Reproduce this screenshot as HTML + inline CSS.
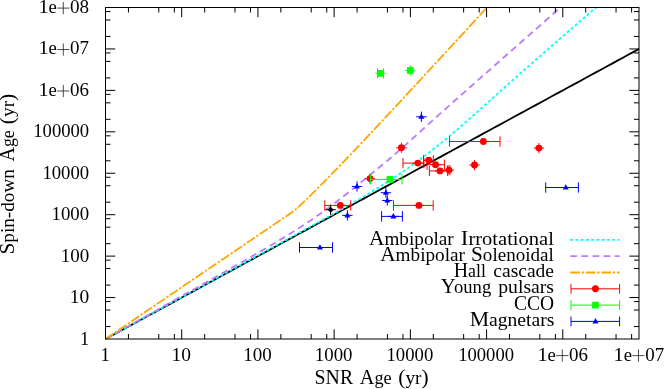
<!DOCTYPE html>
<html><head><meta charset="utf-8"><title>plot</title>
<style>html,body{margin:0;padding:0;background:#fff;overflow:hidden}svg{display:block;will-change:transform}text{font-family:"Liberation Serif",serif;fill:#000}</style>
</head><body>
<svg width="664" height="389" viewBox="0 0 664 389">
<rect x="0" y="0" width="664" height="389" fill="#ffffff"/>
<defs><clipPath id="pc"><rect x="105.00" y="7.00" width="534.50" height="332.50"/></clipPath></defs>
<g clip-path="url(#pc)" fill="none" stroke-width="1.80" stroke-linejoin="round">
<path d="M105.50,339.00 L110.89,336.07 L116.28,333.14 L121.67,330.21 L127.06,327.28 L132.44,324.35 L137.83,321.42 L143.22,318.49 L148.61,315.56 L154.00,312.63 L159.39,309.70 L164.78,306.77 L170.17,303.84 L175.56,300.91 L180.94,297.98 L186.33,295.05 L191.72,292.12 L197.11,289.19 L202.50,286.26 L207.89,283.33 L213.28,280.40 L218.67,277.47 L224.06,274.54 L229.44,271.61 L234.83,268.68 L240.22,265.75 L245.61,262.82 L251.00,259.89 L256.39,256.96 L261.78,254.03 L267.17,251.10 L272.56,248.17 L277.94,245.24 L283.33,242.31 L288.72,239.38 L294.11,236.45 L299.50,233.52 L304.89,230.59 L310.28,227.66 L315.67,224.73 L321.06,221.80 L326.44,218.87 L331.83,215.94 L337.22,213.01 L342.61,210.08 L348.00,207.15 L353.39,204.22 L358.78,201.29 L364.17,198.36 L369.56,195.43 L374.94,192.50 L380.33,189.57 L385.72,186.64 L391.11,183.71 L396.50,180.78 L401.89,177.85 L407.28,174.92 L412.67,171.99 L418.06,169.06 L423.44,166.13 L428.83,163.20 L434.22,160.27 L439.61,157.34 L445.00,154.41 L450.39,151.48 L455.78,148.55 L461.17,145.62 L466.56,142.70 L471.94,139.77 L477.33,136.84 L482.72,133.91 L488.11,130.98 L493.50,128.05 L498.89,125.12 L504.28,122.19 L509.67,119.26 L515.06,116.33 L520.44,113.40 L525.83,110.47 L531.22,107.54 L536.61,104.61 L542.00,101.68 L547.39,98.75 L552.78,95.82 L558.17,92.89 L563.56,89.96 L568.94,87.03 L574.33,84.10 L579.72,81.17 L585.11,78.24 L590.50,75.31 L595.89,72.38 L601.28,69.45 L606.67,66.52 L612.06,63.59 L617.44,60.66 L622.83,57.73 L628.22,54.80 L633.61,51.87 L639.00,48.94" stroke="#000"/>
<path d="M105.50,339.00 L110.89,336.05 L116.28,333.09 L121.67,330.14 L127.06,327.19 L132.44,324.23 L137.83,321.28 L143.22,318.33 L148.61,315.37 L154.00,312.42 L159.39,309.47 L164.78,306.51 L170.17,303.56 L175.56,300.61 L180.94,297.65 L186.33,294.70 L191.72,291.75 L197.11,288.79 L202.50,285.84 L207.89,282.89 L213.28,279.93 L218.67,276.98 L224.06,274.02 L229.44,271.07 L234.83,268.12 L240.22,265.16 L245.61,262.21 L251.00,259.25 L256.39,256.30 L261.78,253.34 L267.17,250.39 L272.56,247.43 L277.94,244.48 L283.33,241.52 L288.72,238.56 L294.11,235.59 L299.50,232.63 L304.89,229.66 L310.28,226.69 L315.67,223.71 L321.06,220.73 L326.44,217.74 L331.83,214.73 L337.22,211.71 L342.61,208.68 L348.00,205.62 L353.39,202.54 L358.78,199.42 L364.17,196.26 L369.56,193.06 L374.94,189.80 L380.33,186.48 L385.72,183.09 L391.11,179.62 L396.50,176.06 L401.89,172.41 L407.28,168.67 L412.67,164.84 L418.06,160.91 L423.44,156.89 L428.83,152.77 L434.22,148.56 L439.61,144.26 L445.00,139.86 L450.39,135.38 L455.78,130.82 L461.17,126.18 L466.56,121.47 L471.94,116.71 L477.33,111.91 L482.72,107.08 L488.11,102.24 L493.50,97.40 L498.89,92.56 L504.28,87.74 L509.67,82.93 L515.06,78.14 L520.44,73.38 L525.83,68.63 L531.22,63.89 L536.61,59.17 L542.00,54.46 L547.39,49.75 L552.78,45.05 L558.17,40.36 L563.56,35.67 L568.94,30.98 L574.33,26.29 L579.72,21.60 L585.11,16.91 L590.50,12.22 L595.89,7.53 L601.28,2.85 L606.67,-1.84 L612.06,-6.53 L617.44,-11.22 L622.83,-15.91 L628.22,-20.59" stroke="#00ffff" stroke-dasharray="2.9 2.35"/>
<path d="M105.50,339.00 L110.89,335.97 L116.28,332.93 L121.67,329.90 L127.06,326.87 L132.44,323.84 L137.83,320.80 L143.22,317.77 L148.61,314.74 L154.00,311.70 L159.39,308.67 L164.78,305.64 L170.17,302.60 L175.56,299.57 L180.94,296.53 L186.33,293.50 L191.72,290.46 L197.11,287.42 L202.50,284.39 L207.89,281.35 L213.28,278.30 L218.67,275.26 L224.06,272.21 L229.44,269.15 L234.83,266.09 L240.22,263.03 L245.61,259.95 L251.00,256.86 L256.39,253.76 L261.78,250.64 L267.17,247.49 L272.56,244.32 L277.94,241.11 L283.33,237.86 L288.72,234.56 L294.11,231.20 L299.50,227.77 L304.89,224.26 L310.28,220.66 L315.67,216.97 L321.06,213.18 L326.44,209.28 L331.83,205.28 L337.22,201.19 L342.61,197.01 L348.00,192.76 L353.39,188.45 L358.78,184.10 L364.17,179.72 L369.56,175.33 L374.94,170.91 L380.33,166.48 L385.72,162.00 L391.11,157.46 L396.50,152.85 L401.89,148.15 L407.28,143.38 L412.67,138.53 L418.06,133.65 L423.44,128.75 L428.83,123.85 L434.22,118.98 L439.61,114.13 L445.00,109.32 L450.39,104.53 L455.78,99.75 L461.17,94.99 L466.56,90.24 L471.94,85.49 L477.33,80.74 L482.72,76.00 L488.11,71.25 L493.50,66.51 L498.89,61.76 L504.28,57.02 L509.67,52.27 L515.06,47.52 L520.44,42.78 L525.83,38.03 L531.22,33.28 L536.61,28.54 L542.00,23.79 L547.39,19.04 L552.78,14.30 L558.17,9.55 L563.56,4.81 L568.94,0.06 L574.33,-4.69 L579.72,-9.43 L585.11,-14.18 L590.50,-18.93" stroke="#bc7cff" stroke-dasharray="6.75 4.35"/>
<path d="M105.50,339.00 L110.89,335.34 L116.28,331.68 L121.67,328.01 L127.06,324.35 L132.44,320.69 L137.83,317.03 L143.22,313.36 L148.61,309.70 L154.00,306.04 L159.39,302.38 L164.78,298.71 L170.17,295.05 L175.56,291.39 L180.94,287.73 L186.33,284.06 L191.72,280.40 L197.11,276.74 L202.50,273.08 L207.89,269.41 L213.28,265.75 L218.67,262.09 L224.06,258.43 L229.44,254.76 L234.83,251.10 L240.22,247.44 L245.61,243.78 L251.00,240.12 L256.39,236.45 L261.78,232.79 L267.17,229.13 L272.56,225.47 L277.94,221.80 L283.33,218.14 L288.72,214.48 L294.11,210.82 L299.50,205.97 L304.89,200.83 L310.28,195.60 L315.67,190.30 L321.06,184.92 L326.44,179.48 L331.83,173.99 L337.22,168.45 L342.61,162.86 L348.00,157.24 L353.39,151.59 L358.78,145.90 L364.17,140.19 L369.56,134.46 L374.94,128.71 L380.33,122.94 L385.72,117.16 L391.11,111.37 L396.50,105.57 L401.89,99.76 L407.28,93.94 L412.67,88.12 L418.06,82.29 L423.44,76.46 L428.83,70.62 L434.22,64.78 L439.61,58.93 L445.00,53.09 L450.39,47.24 L455.78,41.39 L461.17,35.54 L466.56,29.69 L471.94,23.83 L477.33,17.98 L482.72,12.12 L488.11,6.27 L493.50,0.41 L498.89,-5.45 L504.28,-11.30 L509.67,-17.16 L515.06,-23.02" stroke="#ffa500" stroke-dasharray="9.55 1.9 2.3 1.8"/>
</g>
<g clip-path="url(#pc)">
<path d="M324.80,205.40 H350.70 M324.80,200.25 V210.55 M350.70,200.25 V210.55 M335.15,205.40 H345.45" stroke="#ff0000" stroke-width="1" fill="none"/>
<circle cx="340.30" cy="205.40" r="3.45" fill="#ff0000"/>
<path d="M396.25,147.70 H406.55 M401.40,142.55 V152.85" stroke="#ff0000" stroke-width="1" fill="none"/>
<circle cx="401.40" cy="147.70" r="3.45" fill="#ff0000"/>
<path d="M403.00,163.10 H423.90 M403.00,157.95 V168.25 M423.90,157.95 V168.25 M412.75,163.10 H423.05" stroke="#ff0000" stroke-width="1" fill="none"/>
<circle cx="417.90" cy="163.10" r="3.45" fill="#ff0000"/>
<path d="M423.50,160.30 H433.30 M423.50,155.15 V165.45 M433.30,155.15 V165.45 M423.55,160.30 H433.85" stroke="#ff0000" stroke-width="1" fill="none"/>
<circle cx="428.70" cy="160.30" r="3.45" fill="#ff0000"/>
<path d="M427.10,164.70 H444.40 M427.10,159.55 V169.85 M444.40,159.55 V169.85 M430.35,164.70 H440.65" stroke="#ff0000" stroke-width="1" fill="none"/>
<circle cx="435.50" cy="164.70" r="3.45" fill="#ff0000"/>
<path d="M429.40,170.90 H447.70 M429.40,165.75 V176.05 M447.70,165.75 V176.05 M434.85,170.90 H445.15" stroke="#ff0000" stroke-width="1" fill="none"/>
<circle cx="440.00" cy="170.90" r="3.45" fill="#ff0000"/>
<path d="M447.90,170.10 H449.90 M447.90,164.95 V175.25 M449.90,164.95 V175.25 M443.85,170.10 H454.15" stroke="#ff0000" stroke-width="1" fill="none"/>
<circle cx="449.00" cy="170.10" r="3.45" fill="#ff0000"/>
<path d="M449.60,141.50 H500.00 M449.60,136.35 V146.65 M500.00,136.35 V146.65 M478.25,141.50 H488.55" stroke="#ff0000" stroke-width="1" fill="none"/>
<circle cx="483.40" cy="141.50" r="3.45" fill="#ff0000"/>
<path d="M393.50,205.40 H433.20 M393.50,200.25 V210.55 M433.20,200.25 V210.55 M413.75,205.40 H424.05" stroke="#ff0000" stroke-width="1" fill="none"/>
<circle cx="418.90" cy="205.40" r="3.45" fill="#ff0000"/>
<path d="M364.85,178.60 H375.15 M370.00,173.45 V183.75" stroke="#ff0000" stroke-width="1" fill="none"/>
<circle cx="370.00" cy="178.60" r="3.45" fill="#ff0000"/>
<path d="M533.75,148.10 H544.05 M538.90,142.95 V153.25" stroke="#ff0000" stroke-width="1" fill="none"/>
<circle cx="538.90" cy="148.10" r="3.45" fill="#ff0000"/>
<path d="M469.35,165.00 H479.65 M474.50,159.85 V170.15" stroke="#ff0000" stroke-width="1" fill="none"/>
<circle cx="474.50" cy="165.00" r="3.45" fill="#ff0000"/>
<path d="M377.50,73.35 H383.40 M377.50,68.20 V78.50 M383.40,68.20 V78.50 M375.30,73.35 H385.60" stroke="#00ff00" stroke-width="1" fill="none"/>
<rect x="377.10" y="70.00" width="6.70" height="6.70" fill="#00ff00"/>
<path d="M405.15,70.45 H415.45 M410.30,65.30 V75.60" stroke="#00ff00" stroke-width="1" fill="none"/>
<rect x="406.95" y="67.10" width="6.70" height="6.70" fill="#00ff00"/>
<path d="M370.50,179.40 H402.00 M370.50,174.25 V184.55 M402.00,174.25 V184.55 M384.85,179.40 H395.15" stroke="#00ff00" stroke-width="1" fill="none"/>
<rect x="386.65" y="176.05" width="6.70" height="6.70" fill="#00ff00"/>
<path d="M351.85,186.45 H362.15 M357.00,181.30 V191.60" stroke="#0000ff" stroke-width="1" fill="none"/>
<path d="M357.00,183.15 L354.00,188.45 L360.00,188.45 Z" fill="#0000ff"/>
<path d="M342.25,215.40 H352.55 M347.40,210.25 V220.55" stroke="#0000ff" stroke-width="1" fill="none"/>
<path d="M347.40,212.10 L344.40,217.40 L350.40,217.40 Z" fill="#0000ff"/>
<path d="M380.75,192.70 H391.05 M385.90,187.55 V197.85" stroke="#0000ff" stroke-width="1" fill="none"/>
<path d="M385.90,189.40 L382.90,194.70 L388.90,194.70 Z" fill="#0000ff"/>
<path d="M382.15,200.50 H392.45 M387.30,195.35 V205.65" stroke="#0000ff" stroke-width="1" fill="none"/>
<path d="M387.30,197.20 L384.30,202.50 L390.30,202.50 Z" fill="#0000ff"/>
<path d="M381.60,216.40 H402.40 M381.60,211.25 V221.55 M402.40,211.25 V221.55 M388.20,216.40 H398.50" stroke="#0000ff" stroke-width="1" fill="none"/>
<path d="M393.35,213.10 L390.35,218.40 L396.35,218.40 Z" fill="#0000ff"/>
<path d="M299.50,247.50 H332.50 M299.50,242.35 V252.65 M332.50,242.35 V252.65 M314.80,247.50 H325.10" stroke="#0000ff" stroke-width="1" fill="none"/>
<path d="M319.95,244.20 L316.95,249.50 L322.95,249.50 Z" fill="#0000ff"/>
<path d="M416.25,116.80 H426.55 M421.40,111.65 V121.95" stroke="#0000ff" stroke-width="1" fill="none"/>
<path d="M421.40,113.50 L418.40,118.80 L424.40,118.80 Z" fill="#0000ff"/>
<path d="M545.70,187.50 H578.40 M545.70,182.35 V192.65 M578.40,182.35 V192.65 M560.65,187.50 H570.95" stroke="#0000ff" stroke-width="1" fill="none"/>
<path d="M565.80,184.20 L562.80,189.50 L568.80,189.50 Z" fill="#0000ff"/>
<path d="M325.45,209.70 H335.75 M330.60,204.55 V214.85" stroke="#000" stroke-width="1" fill="none"/>
<path d="M330.60,206.70 L333.60,209.70 L330.60,212.70 L327.60,209.70 Z" fill="#000"/>
</g>
<g fill="none" stroke-width="1.80">
<path d="M570.20,239.90 H619.60" stroke="#00ffff" stroke-dasharray="2.9 2.35"/>
<path d="M570.30,256.20 H619.60" stroke="#bc7cff" stroke-dasharray="6.75 4.35"/>
<path d="M570.30,272.50 H619.60" stroke="#ffa500" stroke-dasharray="9.55 1.9 2.3 1.8"/>
</g>
<path d="M571.00,288.80 H619.60 M571.00,283.90 V293.70 M619.60,283.90 V293.70" stroke="#ff0000" stroke-width="1" fill="none"/>
<circle cx="595.45" cy="288.80" r="3.45" fill="#ff0000"/>
<path d="M571.00,305.10 H619.60 M571.00,300.20 V310.00 M619.60,300.20 V310.00" stroke="#00ff00" stroke-width="1" fill="none"/>
<rect x="592.10" y="301.75" width="6.70" height="6.70" fill="#00ff00"/>
<path d="M571.00,321.40 H619.60 M571.00,316.50 V326.30 M619.60,316.50 V326.30" stroke="#0000ff" stroke-width="1" fill="none"/>
<path d="M595.45,318.10 L592.45,323.40 L598.45,323.40 Z" fill="#0000ff"/>
<path d="M128.44,339.00 v-5.00 M128.44,7.50 v5.00 M158.77,339.00 v-5.00 M158.77,7.50 v5.00 M174.33,339.00 v-5.00 M174.33,7.50 v5.00 M181.71,339.00 v-9.70 M181.71,7.50 v9.70 M204.66,339.00 v-5.00 M204.66,7.50 v5.00 M234.99,339.00 v-5.00 M234.99,7.50 v5.00 M250.54,339.00 v-5.00 M250.54,7.50 v5.00 M257.93,339.00 v-9.70 M257.93,7.50 v9.70 M280.87,339.00 v-5.00 M280.87,7.50 v5.00 M311.20,339.00 v-5.00 M311.20,7.50 v5.00 M326.76,339.00 v-5.00 M326.76,7.50 v5.00 M334.14,339.00 v-9.70 M334.14,7.50 v9.70 M357.09,339.00 v-5.00 M357.09,7.50 v5.00 M387.41,339.00 v-5.00 M387.41,7.50 v5.00 M402.97,339.00 v-5.00 M402.97,7.50 v5.00 M410.36,339.00 v-9.70 M410.36,7.50 v9.70 M433.30,339.00 v-5.00 M433.30,7.50 v5.00 M463.63,339.00 v-5.00 M463.63,7.50 v5.00 M479.19,339.00 v-5.00 M479.19,7.50 v5.00 M486.57,339.00 v-9.70 M486.57,7.50 v9.70 M509.51,339.00 v-5.00 M509.51,7.50 v5.00 M539.84,339.00 v-5.00 M539.84,7.50 v5.00 M555.40,339.00 v-5.00 M555.40,7.50 v5.00 M562.79,339.00 v-9.70 M562.79,7.50 v9.70 M585.73,339.00 v-5.00 M585.73,7.50 v5.00 M616.06,339.00 v-5.00 M616.06,7.50 v5.00 M631.61,339.00 v-5.00 M631.61,7.50 v5.00 M105.50,326.53 h5.00 M639.00,326.53 h-5.00 M105.50,310.04 h5.00 M639.00,310.04 h-5.00 M105.50,301.58 h5.00 M639.00,301.58 h-5.00 M105.50,297.56 h9.70 M639.00,297.56 h-9.70 M105.50,285.09 h5.00 M639.00,285.09 h-5.00 M105.50,268.60 h5.00 M639.00,268.60 h-5.00 M105.50,260.14 h5.00 M639.00,260.14 h-5.00 M105.50,256.12 h9.70 M639.00,256.12 h-9.70 M105.50,243.65 h5.00 M639.00,243.65 h-5.00 M105.50,227.16 h5.00 M639.00,227.16 h-5.00 M105.50,218.70 h5.00 M639.00,218.70 h-5.00 M105.50,214.69 h9.70 M639.00,214.69 h-9.70 M105.50,202.21 h5.00 M639.00,202.21 h-5.00 M105.50,185.72 h5.00 M639.00,185.72 h-5.00 M105.50,177.27 h5.00 M639.00,177.27 h-5.00 M105.50,173.25 h9.70 M639.00,173.25 h-9.70 M105.50,160.78 h5.00 M639.00,160.78 h-5.00 M105.50,144.29 h5.00 M639.00,144.29 h-5.00 M105.50,135.83 h5.00 M639.00,135.83 h-5.00 M105.50,131.81 h9.70 M639.00,131.81 h-9.70 M105.50,119.34 h5.00 M639.00,119.34 h-5.00 M105.50,102.85 h5.00 M639.00,102.85 h-5.00 M105.50,94.39 h5.00 M639.00,94.39 h-5.00 M105.50,90.38 h9.70 M639.00,90.38 h-9.70 M105.50,77.90 h5.00 M639.00,77.90 h-5.00 M105.50,61.41 h5.00 M639.00,61.41 h-5.00 M105.50,52.95 h5.00 M639.00,52.95 h-5.00 M105.50,48.94 h9.70 M639.00,48.94 h-9.70 M105.50,36.46 h5.00 M639.00,36.46 h-5.00 M105.50,19.97 h5.00 M639.00,19.97 h-5.00 M105.50,11.52 h5.00 M639.00,11.52 h-5.00" stroke="#000" stroke-width="1" fill="none"/>
<rect x="105.50" y="7.50" width="533.50" height="331.50" fill="none" stroke="#000" stroke-width="1"/>
<text x="80.11" y="344.50" textLength="9.22" lengthAdjust="spacingAndGlyphs"><tspan font-size="19.60">1</tspan></text>
<text x="69.73" y="303.06" textLength="19.46" lengthAdjust="spacingAndGlyphs"><tspan font-size="19.60">10</tspan></text>
<text x="60.63" y="261.62" textLength="28.54" lengthAdjust="spacingAndGlyphs"><tspan font-size="19.60">100</tspan></text>
<text x="51.51" y="220.19" textLength="37.66" lengthAdjust="spacingAndGlyphs"><tspan font-size="19.60">1000</tspan></text>
<text x="42.38" y="178.75" textLength="46.78" lengthAdjust="spacingAndGlyphs"><tspan font-size="19.60">10000</tspan></text>
<text x="33.25" y="137.31" textLength="55.91" lengthAdjust="spacingAndGlyphs"><tspan font-size="19.60">100000</tspan></text>
<text x="38.43" y="95.88" textLength="18.48" lengthAdjust="spacingAndGlyphs"><tspan font-size="19.60">1</tspan><tspan font-size="18.00">e</tspan></text><path d="M57.20,90.97 h12.20 M63.30,84.88 v12.20" stroke="#000" stroke-width="0.7" fill="none"/><text x="70.03" y="95.88" textLength="18.95" lengthAdjust="spacingAndGlyphs"><tspan font-size="19.60">06</tspan></text>
<text x="38.43" y="54.44" textLength="18.48" lengthAdjust="spacingAndGlyphs"><tspan font-size="19.60">1</tspan><tspan font-size="18.00">e</tspan></text><path d="M57.20,49.54 h12.20 M63.30,43.44 v12.20" stroke="#000" stroke-width="0.7" fill="none"/><text x="70.03" y="54.44" textLength="18.95" lengthAdjust="spacingAndGlyphs"><tspan font-size="19.60">07</tspan></text>
<text x="38.43" y="13.00" textLength="18.48" lengthAdjust="spacingAndGlyphs"><tspan font-size="19.60">1</tspan><tspan font-size="18.00">e</tspan></text><path d="M57.20,8.10 h12.20 M63.30,2.00 v12.20" stroke="#000" stroke-width="0.7" fill="none"/><text x="70.02" y="13.00" textLength="19.16" lengthAdjust="spacingAndGlyphs"><tspan font-size="19.60">08</tspan></text>
<text x="100.48" y="360.50" textLength="9.37" lengthAdjust="spacingAndGlyphs"><tspan font-size="19.60">1</tspan></text>
<text x="171.49" y="360.50" textLength="19.46" lengthAdjust="spacingAndGlyphs"><tspan font-size="19.60">10</tspan></text>
<text x="243.17" y="360.50" textLength="28.54" lengthAdjust="spacingAndGlyphs"><tspan font-size="19.60">100</tspan></text>
<text x="314.83" y="360.50" textLength="37.66" lengthAdjust="spacingAndGlyphs"><tspan font-size="19.60">1000</tspan></text>
<text x="386.49" y="360.50" textLength="46.78" lengthAdjust="spacingAndGlyphs"><tspan font-size="19.60">10000</tspan></text>
<text x="458.14" y="360.50" textLength="55.91" lengthAdjust="spacingAndGlyphs"><tspan font-size="19.60">100000</tspan></text>
<text x="537.42" y="360.50" textLength="18.48" lengthAdjust="spacingAndGlyphs"><tspan font-size="19.60">1</tspan><tspan font-size="18.00">e</tspan></text><path d="M556.19,355.60 h12.20 M562.29,349.50 v12.20" stroke="#000" stroke-width="0.7" fill="none"/><text x="569.01" y="360.50" textLength="18.95" lengthAdjust="spacingAndGlyphs"><tspan font-size="19.60">06</tspan></text>
<text x="613.63" y="360.50" textLength="18.48" lengthAdjust="spacingAndGlyphs"><tspan font-size="19.60">1</tspan><tspan font-size="18.00">e</tspan></text><path d="M632.40,355.60 h12.20 M638.50,349.50 v12.20" stroke="#000" stroke-width="0.7" fill="none"/><text x="645.23" y="360.50" textLength="18.95" lengthAdjust="spacingAndGlyphs"><tspan font-size="19.60">07</tspan></text>
<text x="314.61" y="384.40" textLength="38.49" lengthAdjust="spacingAndGlyphs"><tspan font-size="20.00">SNR</tspan></text>
<text x="359.80" y="384.40" textLength="31.85" lengthAdjust="spacingAndGlyphs"><tspan font-size="20.00">A</tspan><tspan font-size="18.00">ge</tspan></text>
<text x="398.34" y="384.40" textLength="30.34" lengthAdjust="spacingAndGlyphs"><tspan font-size="20.00">(</tspan><tspan font-size="18.00">yr</tspan><tspan font-size="20.00">)</tspan></text>
<text transform="translate(14.10,253.10) rotate(-90)" x="-1.49" y="0" textLength="85.54" lengthAdjust="spacingAndGlyphs"><tspan font-size="20.00">S</tspan><tspan font-size="18.00">pin-down</tspan></text>
<text transform="translate(14.10,253.10) rotate(-90)" x="91.70" y="0" textLength="31.13" lengthAdjust="spacingAndGlyphs"><tspan font-size="20.00">A</tspan><tspan font-size="18.00">ge</tspan></text>
<text transform="translate(14.10,253.10) rotate(-90)" x="128.94" y="0" textLength="30.45" lengthAdjust="spacingAndGlyphs"><tspan font-size="20.00">(</tspan><tspan font-size="18.00">yr</tspan><tspan font-size="20.00">)</tspan></text>
<text x="368.99" y="244.85" textLength="84.76" lengthAdjust="spacingAndGlyphs"><tspan font-size="20.00">A</tspan><tspan font-size="18.00">mbipolar</tspan></text>
<text x="460.79" y="244.85" textLength="93.11" lengthAdjust="spacingAndGlyphs"><tspan font-size="20.00">I</tspan><tspan font-size="18.00">rrotational</tspan></text>
<text x="380.19" y="260.90" textLength="84.76" lengthAdjust="spacingAndGlyphs"><tspan font-size="20.00">A</tspan><tspan font-size="18.00">mbipolar</tspan></text>
<text x="471.12" y="260.90" textLength="82.61" lengthAdjust="spacingAndGlyphs"><tspan font-size="20.00">S</tspan><tspan font-size="18.00">olenoidal</tspan></text>
<text x="453.70" y="277.00" textLength="32.23" lengthAdjust="spacingAndGlyphs"><tspan font-size="20.00">H</tspan><tspan font-size="18.00">all</tspan></text>
<text x="493.35" y="277.00" textLength="60.65" lengthAdjust="spacingAndGlyphs"><tspan font-size="18.00">cascade</tspan></text>
<text x="440.80" y="293.30" textLength="50.44" lengthAdjust="spacingAndGlyphs"><tspan font-size="20.00">Y</tspan><tspan font-size="18.00" dx="-1.70">oung</tspan></text>
<text x="498.28" y="293.30" textLength="55.77" lengthAdjust="spacingAndGlyphs"><tspan font-size="18.00">pulsars</tspan></text>
<text x="514.02" y="309.60" textLength="40.09" lengthAdjust="spacingAndGlyphs"><tspan font-size="20.00">CCO</tspan></text>
<text x="469.85" y="325.50" textLength="84.59" lengthAdjust="spacingAndGlyphs"><tspan font-size="20.00">M</tspan><tspan font-size="18.00" dx="-0.30">agnetars</tspan></text>
</svg></body></html>
